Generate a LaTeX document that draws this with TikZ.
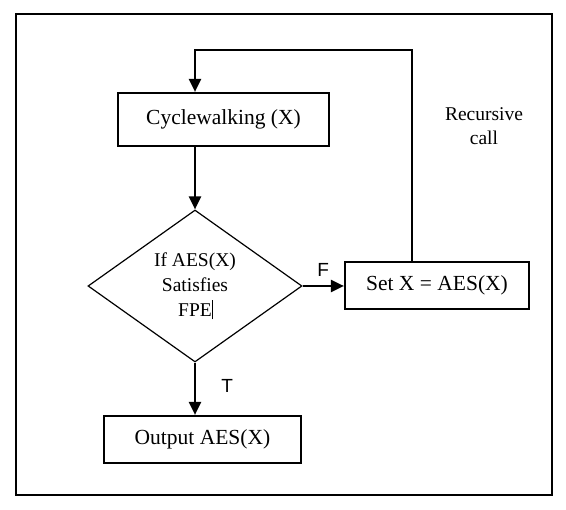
\documentclass[tikz,border=0pt]{standalone}
\usepackage{fontspec}
\setmainfont{Liberation Serif}
\newfontfamily\labelfont{Liberation Sans}
\usetikzlibrary{arrows.meta,positioning,calc,shapes.geometric}

\begin{document}
\begin{tikzpicture}[
  x=1pt, y=-1pt,
  >={Triangle[length=13pt,width=12pt]},
  box/.style={draw, line width=2.2pt, inner sep=0pt, minimum height=47pt, font=\fontsize{21.5}{24}\selectfont},
  decision/.style={draw, diamond, line width=1.2pt, inner sep=0pt, minimum width=214pt, minimum height=152pt, align=center, font=\fontsize{19.5}{25}\selectfont},
  flow/.style={->, line width=2.2pt},
  tf/.style={font=\labelfont\fontsize{19}{22}\selectfont}
]
\useasboundingbox (0,0) rectangle (566,510);
% outer frame
\draw[line width=2.2pt] (16,14) rectangle (552,495);

\node[box, minimum width=211pt, minimum height=53pt] (cyc) at (223.5,119.5) {Cyclewalking (X)};
\node[decision] (dec) at (195,286) {If AES(X)\\Satisfies\\FPE\rlap{\rule[-3pt]{0.6pt}{19pt}}};
\node[box, minimum width=184pt] (set) at (437,285.5) {Set X = AES(X)};
\node[box, minimum width=197pt] (out) at (202.5,439.5) {Output AES(X)};
\coordinate (loop) at (412,50);

\draw[flow] (cyc.south -| dec.north) -- (dec.north);
\draw[flow] (dec.east) -- (set.west |- dec.east)
   node[tf, pos=0.5, above=5pt] (f) {F};
\draw[flow] (dec.south) -- (out.north -| dec.south)
   node[tf, pos=0.45, right=22pt] (t) {T};
\draw[flow] (set.north -| loop) -- (loop) -| (cyc.north -| dec.north);

\node[align=center, font=\fontsize{19.5}{24}\selectfont] (rec) at (484,126) {Recursive\\call};
\end{tikzpicture}
\end{document}
